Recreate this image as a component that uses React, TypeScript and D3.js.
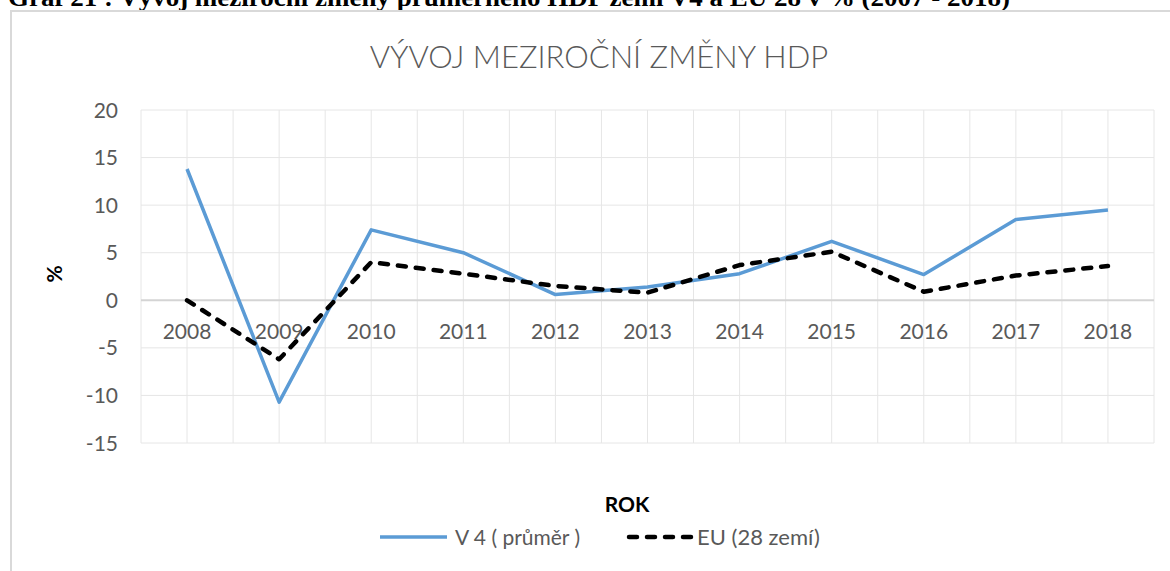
import React from 'react';
import * as d3 from 'd3';

const years = ['2008', '2009', '2010', '2011', '2012', '2013', '2014', '2015', '2016', '2017', '2018'];
const v4 = [13.8, -10.7, 7.4, 5.0, 0.6, 1.4, 2.8, 6.2, 2.7, 8.5, 9.5];
const eu = [0.0, -6.2, 4.0, 2.8, 1.5, 0.8, 3.7, 5.1, 0.9, 2.6, 3.6];
const yTicks = [20, 15, 10, 5, 0, -5, -10, -15];

const caption = 'Graf 21 : Vývoj meziroční změny průměrného HDP zemí V4 a EU 28 v % (2007 - 2018)';
const title = 'VÝVOJ MEZIROČNÍ ZMĚNY HDP';
const seriesNames = ['V 4 ( průměr )', 'EU (28 zemí)'];

const W = 1170;
const H = 571;
const plot = { left: 141, right: 1154, top: 110, bottom: 443 };
const font = 'Lato, "Open Sans", sans-serif';
const gray = '#595959';

export default function App() {
  const x = d3.scalePoint<string>().domain(years).range([plot.left, plot.right]).padding(0.5);
  const y = d3.scaleLinear().domain([-15, 20]).range([plot.bottom, plot.top]);
  const step = x.step();

  const line = d3.line<number>()
    .x((_, i) => x(years[i])!)
    .y((d) => y(d));

  // vertical grid: category centres and boundaries
  const vGrid: number[] = [];
  for (let i = 0; i <= years.length * 2; i++) vGrid.push(plot.left + (i * step) / 2);

  return (
    <svg width={W} height={H} style={{ position: 'absolute', left: 0, top: 0, background: '#fff' }}>
      {/* caption is cropped at the top edge, as in the source image */}
      <text x={8} y={6} fontFamily='"Liberation Serif", serif' fontWeight="bold" fontSize={26} fill="#000"
        textLength={1002} lengthAdjust="spacingAndGlyphs">
        {caption}
      </text>

      {/* chart frame */}
      <line x1={11} x2={W} y1={11} y2={11} stroke="#d9d9d9" strokeWidth={2} />
      <line x1={11} x2={11} y1={10} y2={H} stroke="#d9d9d9" strokeWidth={2} />

      <text x={599} y={68} textAnchor="middle" fontFamily={font} fontWeight={300} fontSize={31} fill={gray}>
        {title}
      </text>

      {/* grid */}
      {vGrid.map((gx, i) => (
        <line key={'v' + i} x1={gx} x2={gx} y1={plot.top} y2={plot.bottom} stroke="#e6e6e6" strokeWidth={1} />
      ))}
      {yTicks.map((t) => (
        <line key={'h' + t} x1={plot.left} x2={plot.right} y1={y(t)} y2={y(t)}
          stroke={t === 0 ? '#d4d4d4' : '#e6e6e6'} strokeWidth={t === 0 ? 2 : 1} />
      ))}

      {yTicks.map((t) => (
        <text key={'yt' + t} x={118} y={y(t)} dy="0.36em" textAnchor="end" fontFamily={font} fontSize={21} fill={gray}>
          {t}
        </text>
      ))}
      {years.map((yr) => (
        <text key={'xt' + yr} x={x(yr)} y={339} textAnchor="middle" fontFamily={font} fontSize={21} fill={gray}>
          {yr}
        </text>
      ))}

      <text transform="translate(62,274) rotate(-90)" textAnchor="middle" fontFamily={font} fontWeight="bold" fontSize={21} fill="#000">
        %
      </text>
      <text x={627} y={512} textAnchor="middle" fontFamily={font} fontWeight="bold" fontSize={21} fill="#000">
        ROK
      </text>

      <path d={line(v4)!} fill="none" stroke="#5B9BD5" strokeWidth={3.5} strokeLinejoin="round" />
      <path d={line(eu)!} fill="none" stroke="#000" strokeWidth={4.5} strokeDasharray="8,10" strokeLinecap="round" strokeLinejoin="round" />

      {/* legend */}
      <line x1={380} x2={447} y1={537} y2={537} stroke="#5B9BD5" strokeWidth={3.5} />
      <text x={455} y={537} dy="0.36em" fontFamily={font} fontSize={21} fill={gray}>{seriesNames[0]}</text>
      <line x1={629} x2={691} y1={537} y2={537} stroke="#000" strokeWidth={4.5} strokeDasharray="8,10" strokeLinecap="round" />
      <text x={697} y={537} dy="0.36em" fontFamily={font} fontSize={22} fill={gray}>{seriesNames[1]}</text>
    </svg>
  );
}
